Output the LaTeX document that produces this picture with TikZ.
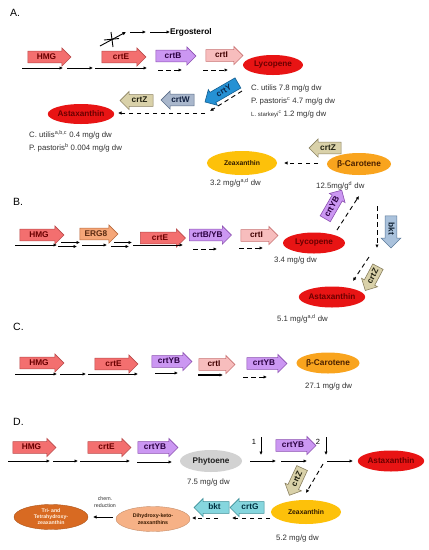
\documentclass[tikz,border=0pt]{standalone}
\usepackage{fontspec}
\setmainfont{Liberation Sans}
\usetikzlibrary{shapes.arrows,shapes.geometric,arrows.meta}
\definecolor{hmgF}{HTML}{F36F6F}\definecolor{hmgD}{HTML}{B94A4A}\definecolor{hmgT}{HTML}{6A0000}
\definecolor{purF}{HTML}{CB97F2}\definecolor{purD}{HTML}{8B4FB0}\definecolor{purT}{HTML}{2A0040}
\definecolor{pnkF}{HTML}{F7BDBD}\definecolor{pnkD}{HTML}{C87070}\definecolor{pnkT}{HTML}{400000}
\definecolor{ergF}{HTML}{F5A678}\definecolor{ergD}{HTML}{B8683C}\definecolor{ergT}{HTML}{5A2A10}
\definecolor{wF}{HTML}{A9B7CC}\definecolor{wD}{HTML}{5A6C88}\definecolor{wT}{HTML}{102040}
\definecolor{zF}{HTML}{D9D1A9}\definecolor{zD}{HTML}{8A8060}\definecolor{zT}{HTML}{202010}
\definecolor{yF}{HTML}{2591D4}\definecolor{yD}{HTML}{145E90}\definecolor{yT}{HTML}{0A2A50}
\definecolor{kbF}{HTML}{AAC2DC}\definecolor{kbD}{HTML}{5A7898}\definecolor{kbT}{HTML}{102030}
\definecolor{gF}{HTML}{86D6DE}\definecolor{gD}{HTML}{3A8D96}\definecolor{gT}{HTML}{003040}
\definecolor{redF}{HTML}{E81414}\definecolor{redT}{HTML}{6A0000}
\definecolor{zeaF}{HTML}{FDC10A}\definecolor{zeaT}{HTML}{301A00}
\definecolor{betF}{HTML}{F9A41E}\definecolor{betT}{HTML}{4A2000}
\definecolor{phyF}{HTML}{D2D2D2}\definecolor{phyT}{HTML}{202020}
\definecolor{dhF}{HTML}{F6B186}\definecolor{dhT}{HTML}{3A1A00}
\definecolor{triF}{HTML}{D86A22}\definecolor{triT}{HTML}{FFF0E0}
\definecolor{measT}{HTML}{303030}
\tikzset{
  gene/.style={single arrow, single arrow head extend=3.2pt, single arrow tip angle=90,
    inner xsep=1.5pt, inner ysep=1.8pt, text height=6.2pt, text depth=1.3pt,
    line width=0.6pt, font=\bfseries\fontsize{8.3}{9}\selectfont},
  hmgg/.style={gene, fill=hmgF, draw=hmgD, text=hmgT},
  purg/.style={gene, fill=purF, draw=purD, text=purT},
  pnkg/.style={gene, fill=pnkF, draw=pnkD, text=pnkT},
  ergg/.style={gene, fill=ergF, draw=ergD, text=ergT},
  wg/.style={gene, fill=wF, draw=wD, text=wT},
  zg/.style={gene, fill=zF, draw=zD, text=zT},
  yg/.style={gene, fill=yF, draw=yD, text=yT},
  kbg/.style={gene, fill=kbF, draw=kbD, text=kbT},
  gg/.style={gene, fill=gF, draw=gD, text=gT},
  prod/.style={ellipse, inner sep=0pt, font=\bfseries\fontsize{8.2}{9}\selectfont},
  redp/.style={prod, fill=redF, text=redT},
  zeap/.style={prod, fill=zeaF, text=zeaT, font=\bfseries\fontsize{6.8}{8}\selectfont},
  betp/.style={prod, fill=betF, text=betT, font=\bfseries\fontsize{8.3}{9}\selectfont},
  phyp/.style={prod, fill=phyF, text=phyT},
  dhp/.style={prod, fill=dhF, draw=dhF!80!black, line width=0.4pt, text=dhT, align=center, font=\bfseries\fontsize{5.3}{6.2}\selectfont},
  trip/.style={prod, fill=triF, draw=triF!80!black, line width=0.4pt, text=triT, align=center, font=\bfseries\fontsize{5.2}{6}\selectfont},
  meas/.style={anchor=west, inner sep=0pt, text=measT, font=\fontsize{7.8}{9}\selectfont},
  lab/.style={anchor=west, inner sep=0pt, font=\fontsize{10.5}{12}\selectfont},
  flow/.style={-{Latex[length=3.5pt,width=3.5pt]}, line width=0.9pt},
  dflow/.style={flow, dash pattern=on 4.5pt off 3.5pt},
}
\begin{document}
\begin{tikzpicture}[x=1pt,y=-1pt]
\useasboundingbox (0,0) rectangle (429,550);
% ---------------- A ----------------
\node[lab] (labA) at (10,13) {A.};
\node[hmgg, minimum height=43pt] (hmgA) at (46.5,57) {HMG};
\node[hmgg, minimum height=44pt] (crtEA) at (121,57) {crtE};
\node[purg, minimum height=40pt] (crtBA) at (173,56) {crtB};
\node[pnkg, minimum height=37pt] (crtIA) at (221.5,55.5) {crtI};
\node[redp, minimum width=60pt, minimum height=20pt] (lycA) at (273,65) {Lycopene};
\node[yg, rotate=30, shape border rotate=180, minimum height=38pt] (crtYA) at (224,91) {crtY};
\node[wg, shape border rotate=180, minimum height=33pt] (crtWA) at (180.5,100) {crtW};
\node[zg, shape border rotate=180, minimum height=33pt] (crtZA) at (139.5,100.5) {crtZ};
\node[redp, minimum width=64pt, minimum height=20pt] (astA) at (81,114) {Astaxanthin};
\node[meas] (mA1) at (251,88) {C. utilis 7.8 mg/g dw};
\node[meas] (mA2) at (251,101) {P. pastoris\textsuperscript{c} 4.7 mg/g dw};
\node[meas] (mA3) at (251,114) {{\fontsize{6}{7}\selectfont L. starkeyi\textsuperscript{c}} 1.2 mg/g dw};
\node[meas] (mA4) at (29,135) {C. utilis\textsuperscript{a,b,c} 0.4 mg/g dw};
\node[meas] (mA5) at (29,148) {P. pastoris\textsuperscript{b} 0.004 mg/g dw};
\node[anchor=west, inner sep=0pt, font=\bfseries\fontsize{8.3}{9}\selectfont] (ergo) at (170,32) {Ergosterol};
\coordinate (a1) at (22,68); \coordinate (a2) at (63,68);
\coordinate (a3) at (67,68); \coordinate (a4) at (93,68);
\coordinate (a5) at (95,68); \coordinate (a6) at (147,68);
\coordinate (a7) at (158,70); \coordinate (a8) at (182,70);
\coordinate (a9) at (203,70); \coordinate (a10) at (228,70);
\coordinate (a11) at (242,91); \coordinate (a12) at (210,111);
\coordinate (a13) at (205,113); \coordinate (a14) at (118,113);
\coordinate (e1) at (100,46); \coordinate (e2) at (126,32);
\coordinate (e3) at (130,32); \coordinate (e4) at (146,32);
\coordinate (e5) at (150,32);
\coordinate (x1) at (111,32); \coordinate (x2) at (113,47);
\coordinate (x3) at (104,40); \coordinate (x4) at (119,38.5);
\draw[flow] (a1) -- (a2);
\draw[flow] (a3) -- (a4);
\draw[flow] (a5) -- (a6);
\draw[dflow] (a7) -- (a8);
\draw[dflow] (a9) -- (a10);
\draw[dflow] (a11) -- (a12);
\draw[dflow] (a13) -- (a14);
\draw[flow] (e1) -- (e2);
\draw[line width=0.9pt] (x1) -- (x2);
\draw[line width=0.9pt] (x3) -- (x4);
\draw[flow] (e3) -- (e4);
\draw[flow] (e5) -- (ergo.west);
% ---------------- B ----------------
\node[zeap, minimum width=70pt, minimum height=24pt] (zeaB) at (242,163) {Zeaxanthin};
\node[betp, minimum width=64pt, minimum height=22pt] (betB) at (359,164) {β-Carotene};
\node[zg, shape border rotate=180, minimum height=32pt] (crtZB1) at (328,148) {crtZ};
\node[meas] (mB1) at (210,183) {3.2 mg/g\textsuperscript{a,d} dw};
\node[meas] (mB2) at (316,186) {12.5mg/g\textsuperscript{d} dw};
\node[purg, rotate=60, minimum height=33pt] (crtYBB) at (332,207) {crtYB};
\node[kbg, rotate=-90, single arrow head extend=4pt, minimum height=32pt] (bktB) at (391,229) {bkt};
\node[lab] (labB) at (13,202) {B.};
\node[hmgg, minimum height=44pt] (hmgB) at (39,235) {HMG};
\node[ergg, minimum height=38pt] (erg8B) at (96,234) {ERG8};
\node[hmgg, minimum height=45pt] (crtEB) at (160,238) {crtE};
\node[purg, minimum height=42pt] (crtBYB) at (207.5,235) {crtB/YB};
\node[pnkg, minimum height=37pt] (crtIB) at (256.5,235.5) {crtI};
\node[redp, minimum width=62pt, minimum height=21pt] (lycB) at (314,243) {Lycopene};
\node[meas] (mB3) at (274,260) {3.4 mg/g dw};
\node[zg, rotate=62, shape border rotate=180, minimum height=27pt] (crtZB2) at (373,276) {crtZ};
\node[redp, minimum width=66pt, minimum height=21pt] (astB) at (332,297) {Astaxanthin};
\node[meas] (mB4) at (277,319) {5.1 mg/g\textsuperscript{a,d} dw};
\coordinate (b1) at (15,245); \coordinate (b2) at (57,245);
\coordinate (b3) at (58,246.5); \coordinate (b4) at (77,246.5);
\coordinate (b5) at (61,242.5); \coordinate (b6) at (80,242.5);
\coordinate (b7) at (82,245); \coordinate (b8) at (107,245);
\coordinate (b9) at (111,246.5); \coordinate (b10) at (129,246.5);
\coordinate (b11) at (114,242.5); \coordinate (b12) at (132,242.5);
\coordinate (b13) at (133,245); \coordinate (b14) at (183,245);
\coordinate (b15) at (193,249); \coordinate (b16) at (217,249);
\coordinate (b17) at (239,248); \coordinate (b18) at (263,248);
\coordinate (b19) at (337,230); \coordinate (b20) at (359,196);
\coordinate (b21) at (377,206); \coordinate (b22) at (377,248);
\coordinate (b23) at (369,257); \coordinate (b24) at (353,281);
\coordinate (b25) at (318,163); \coordinate (b26) at (284,163);
\draw[flow] (b1) -- (b2);
\draw[flow] (b3) -- (b4);
\draw[flow] (b5) -- (b6);
\draw[flow] (b7) -- (b8);
\draw[flow] (b9) -- (b10);
\draw[flow] (b11) -- (b12);
\draw[flow] (b13) -- (b14);
\draw[dflow] (b15) -- (b16);
\draw[dflow] (b17) -- (b18);
\draw[dflow] (b19) -- (b20);
\draw[dflow] (b21) -- (b22);
\draw[dflow] (b23) -- (b24);
\draw[dflow] (b25) -- (b26);
% ---------------- C ----------------
\node[lab] (labC) at (13,327) {C.};
\node[hmgg, minimum height=44pt] (hmgC) at (39,363) {HMG};
\node[hmgg, minimum height=43pt] (crtEC) at (113.5,364) {crtE};
\node[purg, minimum height=40pt] (crtYBC) at (169,361.5) {crtYB};
\node[pnkg, minimum height=36pt] (crtIC) at (214,364.5) {crtI};
\node[purg, minimum height=40pt] (crtYBC2) at (264,363.5) {crtYB};
\node[betp, minimum width=63pt, minimum height=21pt] (betC) at (328,363) {β-Carotene};
\node[meas] (mC1) at (305,386) {27.1 mg/g dw};
\coordinate (c1) at (15,374); \coordinate (c2) at (57,374);
\coordinate (c3) at (60,374); \coordinate (c4) at (86,374);
\coordinate (c5) at (88,374); \coordinate (c6) at (138,374);
\coordinate (c7) at (155,373); \coordinate (c8) at (178,373);
\coordinate (c9) at (198,375); \coordinate (c10) at (223,375);
\coordinate (c11) at (243,377); \coordinate (c12) at (267,377);
\draw[flow] (c1) -- (c2);
\draw[flow] (c3) -- (c4);
\draw[flow] (c5) -- (c6);
\draw[flow] (c7) -- (c8);
\draw[flow, line width=1.3pt] (c9) -- (c10);
\draw[dflow] (c11) -- (c12);
% ---------------- D ----------------
\node[lab] (labD) at (13,422) {D.};
\node[hmgg, minimum height=43pt] (hmgD) at (31.5,447.5) {HMG};
\node[hmgg, minimum height=43pt] (crtED) at (106.5,447.5) {crtE};
\node[purg, minimum height=40pt] (crtYBD) at (155,447.5) {crtYB};
\node[phyp, minimum width=62pt, minimum height=22pt] (phyD) at (211,461) {Phytoene};
\node[meas] (mD1) at (187,482) {7.5 mg/g dw};
\node[purg, minimum height=40pt] (crtYBD2) at (293,445.5) {crtYB};
\node[redp, minimum width=64pt, minimum height=21pt] (astD) at (391,461) {Astaxanthin};
\node[zg, rotate=65, shape border rotate=180, minimum height=30pt] (crtZD) at (297,479) {crtZ};
\node[zeap, minimum width=70pt, minimum height=24pt] (zeaD) at (306,512) {Zeaxanthin};
\node[meas] (mD2) at (276,538) {5.2 mg/g dw};
\node[gg, shape border rotate=180, minimum height=34pt] (crtGD) at (250,507.5) {crtG};
\node[gg, shape border rotate=180, minimum height=35pt] (bktD) at (214.5,507.5) {bkt};
\node[dhp, minimum width=74pt, minimum height=25pt] (dhD) at (153,519) {Dihydroxy-keto-\\zeaxanthins};
\node[trip, minimum width=74pt, minimum height=25pt] (triD) at (51,517) {Tri- and\\Tetrahydroxy-\\zeaxanthin};
\node[align=center, inner sep=0pt, text=measT, font=\fontsize{5.3}{6.3}\selectfont] (chem) at (105,502) {chem.\\reduction};
\node[inner sep=0pt, font=\fontsize{7.5}{9}\selectfont] (n1) at (254,442) {1};
\node[inner sep=0pt, font=\fontsize{7.5}{9}\selectfont] (n2) at (318,442) {2};
\coordinate (d1) at (8,461); \coordinate (d2) at (50,461);
\coordinate (d3) at (53,461); \coordinate (d4) at (78,461);
\coordinate (d5) at (80,461); \coordinate (d6) at (130,461);
\coordinate (d7) at (137,462); \coordinate (d8) at (172,462);
\coordinate (d9) at (250,461); \coordinate (d10) at (276,461);
\coordinate (d11) at (281,461); \coordinate (d12) at (307,461);
\coordinate (d13) at (327,461); \coordinate (d14) at (353,461);
\coordinate (d15) at (261,437); \coordinate (d16) at (261,455);
\coordinate (d17) at (326,437); \coordinate (d18) at (326,455);
\coordinate (d19) at (323,464); \coordinate (d20) at (306,493);
\coordinate (d21) at (270,518); \coordinate (d22) at (232,518);
\coordinate (d23) at (218,518); \coordinate (d24) at (192,518);
\coordinate (d25) at (113,517); \coordinate (d26) at (93,517);
\draw[flow] (d1) -- (d2);
\draw[flow] (d3) -- (d4);
\draw[flow] (d5) -- (d6);
\draw[flow] (d7) -- (d8);
\draw[flow] (d9) -- (d10);
\draw[flow] (d11) -- (d12);
\draw[flow] (d13) -- (d14);
\draw[flow] (d15) -- (d16);
\draw[flow] (d17) -- (d18);
\draw[dflow] (d19) -- (d20);
\draw[dflow] (d21) -- (d22);
\draw[dflow] (d23) -- (d24);
\draw[flow, line width=0.7pt] (d25) -- (d26);
\end{tikzpicture}
\end{document}
